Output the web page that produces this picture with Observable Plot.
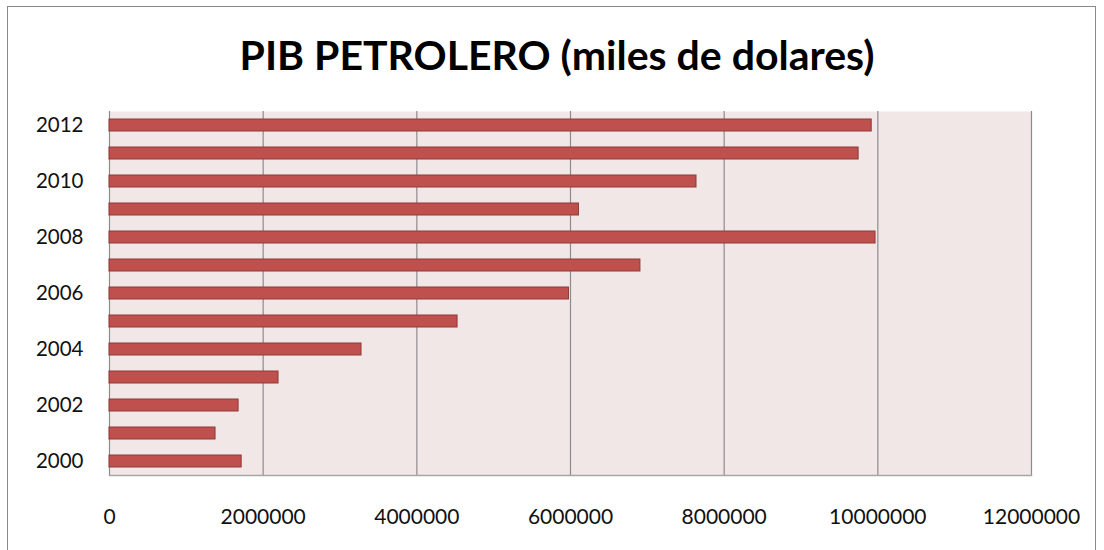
<!DOCTYPE html>
<html><head><meta charset="utf-8">
<script src="https://cdn.jsdelivr.net/npm/d3@7"></script>
<script src="https://cdn.jsdelivr.net/npm/@observablehq/plot@0.6"></script>
<style>
body{margin:0;background:#fff;}
#wrap{position:relative;width:1104px;height:550px;overflow:hidden;font-family:Lato,sans-serif;background:#fff;}
#frame{position:absolute;left:7px;top:6px;width:1089px;height:600px;border:1.5px solid #8a8a8a;box-sizing:border-box;}
#title{position:absolute;left:0;top:31px;width:1114px;text-align:center;font-weight:bold;font-size:41px;line-height:48px;color:#000;}
#chart{position:absolute;left:0;top:100px;}
</style>
</head><body>
<div id="wrap">
<div id="frame"></div>
<div id="title">PIB PETROLERO (miles de dolares)</div>
<div id="chart"></div>
</div>
<script>
const years = [2000,2001,2002,2003,2004,2005,2006,2007,2008,2009,2010,2011,2012];
const values = [1720000,1380000,1680000,2200000,3280000,4530000,5980000,6910000,9970000,6110000,7640000,9750000,9920000];
const xTicks = [0,2000000,4000000,6000000,8000000,10000000,12000000];
const yTickYears = [2000,2002,2004,2006,2008,2010,2012];

const data = years.map((y,i)=>({year:y, value:values[i]}));

const chart = Plot.plot({
  width:1104, height:450,
  marginTop:11, marginBottom:75, marginLeft:109, marginRight:73,
  style:{fontFamily:"Lato, sans-serif", fontSize:"21px", color:"#111", background:"transparent", overflow:"visible"},
  x:{domain:[0,12000000]},
  y:{type:"band", domain:years.slice().reverse(), paddingInner:0.57, paddingOuter:0.285},
  marks:[
    Plot.frame({fill:"#F2E7E7", stroke:null}),
    Plot.ruleX(xTicks, {stroke:"#8c8c8c", strokeWidth:1.2}),
    Plot.frame({anchor:"bottom", stroke:"#a6a6a6", strokeWidth:1.5}),
    Plot.barX(data, {x:"value", y:"year", fill:"#C0504D", stroke:"#8C3A38", strokeWidth:1}),
    Plot.axisX({ticks:xTicks, tickFormat:d=>String(d), tickSize:0, tickPadding:34, label:null, fontSize:21}),
    Plot.axisY({ticks:yTickYears, tickFormat:d=>String(d), tickSize:0, tickPadding:26, label:null, fontSize:20.5})
  ]
});
document.getElementById("chart").appendChild(chart);
</script>
</body></html>
